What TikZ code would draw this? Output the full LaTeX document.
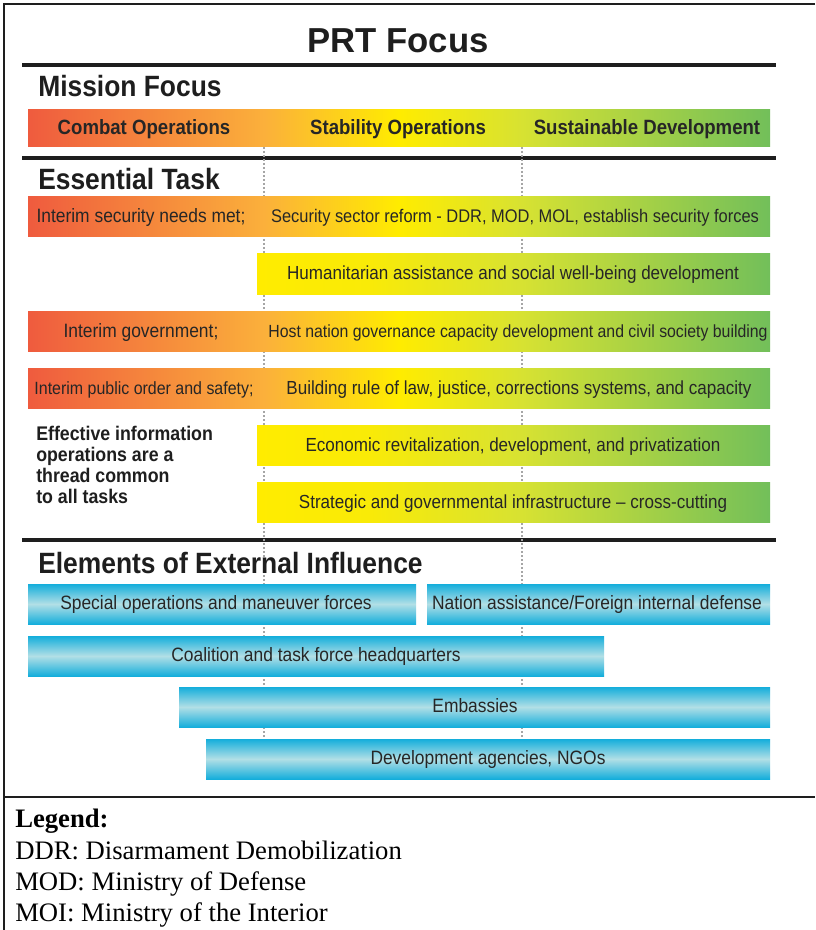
\documentclass[tikz,border=0pt]{standalone}
\usepackage{fontspec}
\setmainfont{Liberation Serif}
\setsansfont{Liberation Sans}
\newfontfamily\prtsans[FakeStretch=0.9]{Liberation Sans}

\definecolor{prtred}{HTML}{EF5B3E}
\definecolor{prtorange}{HTML}{FBB03B}
\definecolor{prtyellow}{HTML}{FFEC00}
\definecolor{prtlime}{HTML}{D7E232}
\definecolor{prtgreen}{HTML}{72BF5A}
\definecolor{prtcyan}{HTML}{14AEDB}
\definecolor{prtpale}{HTML}{B2DFE6}
\definecolor{prttext}{HTML}{262626}
\definecolor{prtrule}{HTML}{1E1E1E}

% full task rows: red -> orange -> yellow -> green
\pgfdeclarehorizontalshading{prtfull}{100bp}{color(0bp)=(prtred); color(25bp)=(prtred);
  color(33bp)=(prtred!50!prtorange); color(40.9bp)=(prtorange); color(50bp)=(prtyellow);
  color(58.3bp)=(prtlime); color(75bp)=(prtgreen); color(100bp)=(prtgreen)}
% short task rows: yellow -> green
\pgfdeclarehorizontalshading{prthalf}{100bp}{color(0bp)=(prtyellow); color(25bp)=(prtyellow);
  color(36bp)=(prtyellow!85!prtlime); color(50.8bp)=(prtlime); color(75bp)=(prtgreen);
  color(100bp)=(prtgreen)}

\tikzset{
  x=0.75pt, y=-0.75pt,
  frameline/.style={draw=prtrule, line width=1.9pt},
  sectrule/.style={draw=prtrule, line width=3pt},
  guide/.style={draw=gray!70, line width=0.8pt, dash pattern=on 1.5pt off 1.5pt},
  fullrow/.style={shading=prtfull},
  halfrow/.style={shading=prthalf},
  bluerow/.style={top color=prtcyan, bottom color=prtcyan, middle color=prtpale},
  secttitle/.style={anchor=base west, inner sep=0pt, text=prtrule,
    font=\prtsans\bfseries\fontsize{22}{24}\selectfont},
  focuslabel/.style={anchor=base, inner sep=0pt, text=prttext,
    font=\prtsans\bfseries\fontsize{15.5}{17}\selectfont},
  barlabel/.style={anchor=base, inner sep=0pt, text=prttext,
    font=\prtsans\fontsize{#1}{#1}\selectfont},
  barlabel/.default=14.5,
  legendline/.style={anchor=base west, inner sep=0pt, font=\fontsize{20}{21}\selectfont}
}

\begin{document}
\begin{tikzpicture}
  \useasboundingbox (0,0) rectangle (815,930);
  \fill[white] (0,0) rectangle (815,930);

  % frame and section rules
  \draw[frameline] (815,4) -- (4,4) -- (4,930);
  \draw[frameline] (4,797) -- (815,797);
  \draw[sectrule] (22,65) -- (776,65);
  \draw[sectrule] (22,158) -- (776,158);
  \draw[sectrule] (22,540) -- (776,540);

  \node[anchor=base, inner sep=0pt, text=prtrule, font=\sffamily\bfseries\fontsize{26}{28}\selectfont]
    (title) at (398,53) {PRT Focus};

  % mission focus
  \node[secttitle] (mission) at (38,97) {Mission Focus};
  \shade[fullrow] (28,110) rectangle (770,147);
  \node[focuslabel] (combat) at (144,135) {Combat Operations};
  \node[focuslabel] (stability) at (398,135) {Stability Operations};
  \node[focuslabel] (sustain) at (647,135) {Sustainable Development};

  % dotted guides
  \draw[guide] (264,147) -- (264,739);
  \draw[guide] (522,147) -- (522,739);

  % essential task
  \node[secttitle] (essential) at (38,190) {Essential Task};
  \shade[fullrow] (28,197) rectangle (770,237);
  \node[barlabel] (secneed) at (141,223) {Interim security needs met;};
  \node[barlabel=13.7] (secreform) at (515,223) {Security sector reform - DDR, MOD, MOL, establish security forces};
  \shade[halfrow] (257,254) rectangle (770,294);
  \node[barlabel=14.2] (human) at (513,280) {Humanitarian assistance and social well-being development};
  \shade[fullrow] (28,311) rectangle (770,351);
  \node[barlabel] (govneed) at (141,337) {Interim government;};
  \node[barlabel=13.2] (govhost) at (518,337) {Host nation governance capacity development and civil society building};
  \shade[fullrow] (28,368) rectangle (770,408);
  \node[barlabel=13.3] (orderneed) at (144,394) {Interim public order and safety;};
  \node[barlabel=14.2] (orderlaw) at (519,394) {Building rule of law, justice, corrections systems, and capacity};
  \shade[halfrow] (257,425) rectangle (770,465);
  \node[barlabel=14.2] (economy) at (513,451) {Economic revitalization, development, and privatization};
  \shade[halfrow] (257,482) rectangle (770,522);
  \node[barlabel=14.2] (infra) at (513,508) {Strategic and governmental infrastructure – cross-cutting};
  \node[anchor=north west, inner sep=0pt, align=left, text=prtrule,
    font=\prtsans\bfseries\fontsize{14.8}{15.75}\selectfont]
    (infoops) at (36,426) {Effective information\\operations are a\\thread common\\to all tasks};

  % elements of external influence
  \node[secttitle] (external) at (38,573) {Elements of External Influence};
  \shade[bluerow] (28,584) rectangle (416,624);
  \node[barlabel] (specops) at (216,609) {Special operations and maneuver forces};
  \shade[bluerow] (427,584) rectangle (770,624);
  \node[barlabel] (nation) at (597,609) {Nation assistance/Foreign internal defense};
  \shade[bluerow] (28,636) rectangle (604,676);
  \node[barlabel] (coalition) at (316,661) {Coalition and task force headquarters};
  \shade[bluerow] (179,687) rectangle (770,727);
  \node[barlabel] (embassy) at (475,712) {Embassies};
  \shade[bluerow] (206,739) rectangle (770,779);
  \node[barlabel] (ngos) at (488,764) {Development agencies, NGOs};

  % legend
  \node[legendline, font=\bfseries\fontsize{20}{21}\selectfont] (legend) at (15,827) {Legend:};
  \node[legendline] (ddr) at (15,859) {DDR: Disarmament Demobilization};
  \node[legendline] (mod) at (15,890) {MOD: Ministry of Defense};
  \node[legendline] (moi) at (15,921) {MOI: Ministry of the Interior};
\end{tikzpicture}
\end{document}
